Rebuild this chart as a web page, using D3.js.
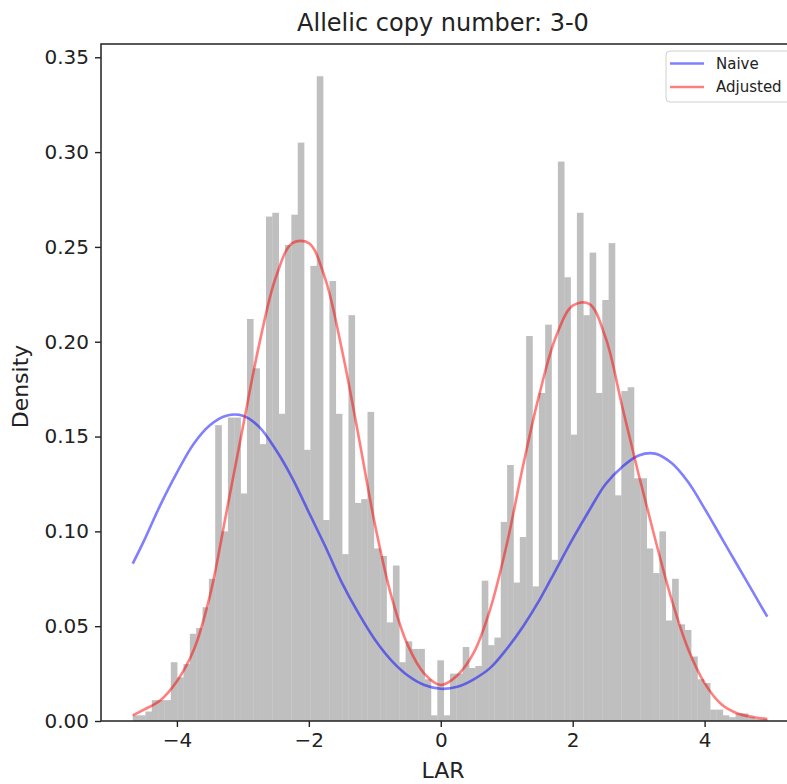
<!DOCTYPE html>
<html>
<head>
<meta charset="utf-8">
<script src="https://cdn.jsdelivr.net/npm/d3@7"></script>
<style>
  body { margin: 0; background: #fff; }
  text { font-family: "DejaVu Sans", sans-serif; fill: #222; }
</style>
</head>
<body>
<div class="canvas"></div>
<script>
// histogram: 100 bins between lo and hi, density per bin
const lo = -4.67;
const hi = 4.95;
const density = [
  0.003, 0.003, 0.005, 0.011, 0.011, 0.011, 0.031, 0.023, 0.030, 0.046,
  0.049, 0.060, 0.075, 0.156, 0.100, 0.160, 0.160, 0.120, 0.212, 0.186,
  0.146, 0.266, 0.268, 0.162, 0.251, 0.267, 0.305, 0.143, 0.240, 0.340,
  0.106, 0.232, 0.162, 0.088, 0.214, 0.115, 0.117, 0.163, 0.091, 0.087,
  0.052, 0.082, 0.031, 0.042, 0.038, 0.038, 0.022, 0.003, 0.032, 0.003,
  0.025, 0.025, 0.039, 0.028, 0.029, 0.074, 0.040, 0.044, 0.105, 0.135,
  0.073, 0.097, 0.203, 0.071, 0.173, 0.209, 0.085, 0.295, 0.234, 0.151,
  0.268, 0.214, 0.247, 0.173, 0.222, 0.252, 0.119, 0.174, 0.176, 0.128,
  0.128, 0.091, 0.078, 0.100, 0.053, 0.075, 0.051, 0.048, 0.034, 0.022,
  0.020, 0.006, 0.006, 0.003, 0.002, 0.004, 0.004, 0.002, 0.001, 0.001
];

// fitted curves
const curveX = [
  -4.67, -4.5, -4.25, -4.0, -3.75, -3.5, -3.25, -3.0, -2.75, -2.5,
  -2.25, -2.0, -1.75, -1.5, -1.25, -1.0, -0.75, -0.5, -0.25, 0,
  0.25, 0.5, 0.75, 1.0, 1.25, 1.5, 1.75, 2.0, 2.25, 2.5,
  2.75, 3.0, 3.25, 3.5, 3.75, 4.0, 4.25, 4.5, 4.75, 4.95
];
const naive = [
  0.083, 0.095, 0.114, 0.131, 0.146, 0.156, 0.161, 0.161, 0.155, 0.143,
  0.128, 0.110, 0.092, 0.073, 0.057, 0.043, 0.032, 0.024, 0.019, 0.017,
  0.018, 0.022, 0.028, 0.038, 0.050, 0.064, 0.080, 0.096, 0.111, 0.125,
  0.134, 0.140, 0.141, 0.136, 0.126, 0.112, 0.097, 0.082, 0.067, 0.055
];
const adjusted = [
  0.003, 0.006, 0.011, 0.021, 0.037, 0.066, 0.110, 0.155, 0.199, 0.234,
  0.252, 0.252, 0.233, 0.196, 0.151, 0.104, 0.066, 0.040, 0.025, 0.019,
  0.024, 0.036, 0.059, 0.093, 0.135, 0.173, 0.203, 0.219, 0.220, 0.202,
  0.166, 0.130, 0.096, 0.064, 0.038, 0.020, 0.009, 0.004, 0.002, 0.001
];

const xTicks = [-4, -2, 0, 2, 4];
const yTicks = [0, 0.05, 0.10, 0.15, 0.20, 0.25, 0.30, 0.35];

const width = 787, height = 784;
const margin = { top: 44, left: 101, bottom: 63, right: -12 };
const graphWidth = width - margin.left - margin.right;
const graphHeight = height - margin.top - margin.bottom;

const svg = d3.select('.canvas')
  .append('svg')
  .attr('width', width)
  .attr('height', height);

const graph = svg.append('g')
  .attr('transform', `translate(${margin.left}, ${margin.top})`);

const nBins = density.length;
const binW = (hi - lo) / nBins;
const bins = density.map((d, i) => ({ x0: lo + i * binW, x1: lo + (i + 1) * binW, v: d }));

// matplotlib-like 5% margins
const pad = (hi - lo) * 0.05;
const x = d3.scaleLinear()
  .domain([lo - pad, hi + pad])
  .range([0, graphWidth]);

const y = d3.scaleLinear()
  .domain([0, d3.max(density) * 1.05])
  .range([graphHeight, 0]);

graph.selectAll('rect.bar')
  .data(bins)
  .enter()
  .append('rect')
  .attr('class', 'bar')
  .attr('x', d => x(d.x0))
  .attr('width', d => x(d.x1) - x(d.x0) + 0.3)
  .attr('y', d => y(d.v))
  .attr('height', d => graphHeight - y(d.v))
  .attr('fill', '#bfbfbf');

const line = d3.line()
  .x(d => x(d[0]))
  .y(d => y(d[1]))
  .curve(d3.curveCatmullRom);

graph.append('path')
  .datum(curveX.map((v, i) => [v, naive[i]]))
  .attr('d', line)
  .attr('fill', 'none')
  .attr('stroke', 'blue')
  .attr('stroke-opacity', 0.5)
  .attr('stroke-width', 2.6);

graph.append('path')
  .datum(curveX.map((v, i) => [v, adjusted[i]]))
  .attr('d', line)
  .attr('fill', 'none')
  .attr('stroke', 'red')
  .attr('stroke-opacity', 0.5)
  .attr('stroke-width', 2.6);

// axes
const fmtX = d => d < 0 ? '\u2212' + Math.abs(d) : String(d);
const xAxis = d3.axisBottom(x).tickValues(xTicks).tickFormat(fmtX).tickSize(6).tickPadding(6);
const yAxis = d3.axisLeft(y).tickValues(yTicks).tickFormat(d3.format('.2f')).tickSize(6).tickPadding(6);

const xAxisGroup = graph.append('g').attr('transform', `translate(0, ${graphHeight})`).call(xAxis);
const yAxisGroup = graph.append('g').call(yAxis);

[xAxisGroup, yAxisGroup].forEach(g => {
  g.select('.domain').remove();
  g.selectAll('line').attr('stroke', '#222').attr('stroke-width', 1.4);
  g.selectAll('text').attr('font-size', 20).attr('fill', '#222')
    .style('font-family', '"DejaVu Sans", sans-serif');
});

// frame
graph.append('rect')
  .attr('width', graphWidth)
  .attr('height', graphHeight)
  .attr('fill', 'none')
  .attr('stroke', '#222')
  .attr('stroke-width', 1.5);

// titles
graph.append('text')
  .attr('x', 443 - margin.left)
  .attr('y', -13)
  .attr('text-anchor', 'middle')
  .attr('font-size', 24)
  .text('Allelic copy number: 3-0');

graph.append('text')
  .attr('x', 443 - margin.left)
  .attr('y', graphHeight + 57)
  .attr('text-anchor', 'middle')
  .attr('font-size', 22)
  .text('LAR');

graph.append('text')
  .attr('transform', `translate(${-73}, ${graphHeight / 2 + 4}) rotate(-90)`)
  .attr('text-anchor', 'middle')
  .attr('font-size', 22)
  .text('Density');

// legend
const legendItems = [
  { name: 'Naive', color: 'blue' },
  { name: 'Adjusted', color: 'red' }
];
const legend = graph.append('g')
  .attr('transform', `translate(${graphWidth - 133}, 7)`);

legend.append('rect')
  .attr('width', 126)
  .attr('height', 51)
  .attr('rx', 4)
  .attr('fill', 'white')
  .attr('fill-opacity', 0.8)
  .attr('stroke', '#d0d0d0');

legendItems.forEach((item, i) => {
  const row = legend.append('g').attr('transform', `translate(0, ${12.5 + i * 23.5})`);
  row.append('line')
    .attr('x1', 4).attr('x2', 38)
    .attr('stroke', item.color)
    .attr('stroke-opacity', 0.5)
    .attr('stroke-width', 2.6);
  row.append('text')
    .attr('x', 50)
    .attr('dy', '0.35em')
    .attr('font-size', 15)
    .text(item.name);
});
</script>
</body>
</html>
